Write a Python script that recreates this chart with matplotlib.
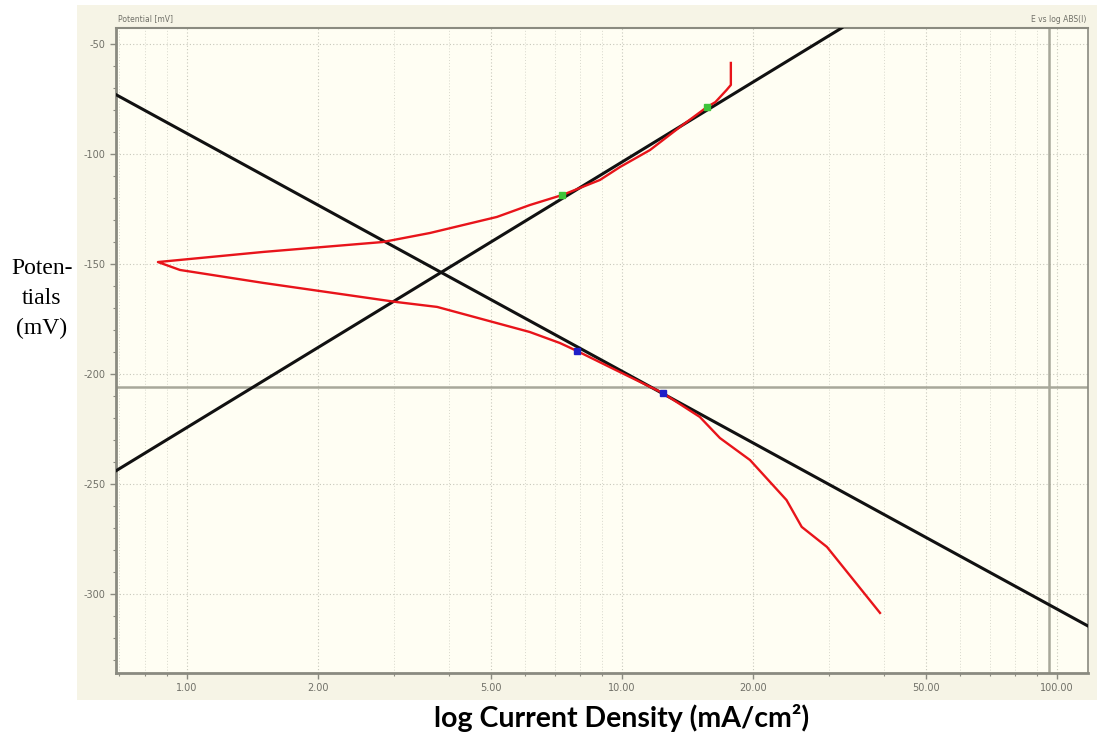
import numpy as np
import matplotlib.pyplot as plt
import matplotlib.ticker as ticker
from matplotlib.patches import Rectangle

plt.rcParams['axes.unicode_minus'] = False

# polarization curve (mA/cm2, mV)
curve_i = [17.8, 17.8, 17.4, 16.4, 15.7, 13.6, 11.6, 9.9, 8.9, 7.3, 6.14, 5.16, 3.62, 2.82,
           1.50, 0.858, 0.964, 1.50, 3.04, 3.76, 6.14, 7.20, 7.88, 9.89, 12.4, 15.1, 16.8,
           19.7, 23.9, 25.9, 29.6, 39.2]
curve_E = [-58.6, -68.6, -70.9, -76.4, -78.6, -87.7, -98.2, -105.9, -111.8, -118.6, -123.2,
           -128.6, -135.9, -140.0, -144.5, -149.1, -152.7, -158.6, -167.3, -169.5, -180.9,
           -185.9, -189.5, -199.1, -208.6, -219.5, -229.1, -239.1, -257.3, -269.5, -278.6,
           -308.6]

# Tafel fit lines (end points)
anodic_i = [0.687, 32.0]
anodic_E = [-244.0, -42.7]
cathodic_i = [0.687, 119.0]
cathodic_E = [-73.0, -315.0]

# fit range markers
green_i = [7.28, 15.7]
green_E = [-118.6, -78.6]
blue_i = [7.88, 12.4]
blue_E = [-189.5, -208.6]

E_corr = -205.9
i_ref = 96.0

x_ticks = [1, 2, 5, 10, 20, 50, 100]
y_ticks = [-50, -100, -150, -200, -250, -300]

fig = plt.figure(figsize=(10.97, 7.38), dpi=100)
fig.patch.set_facecolor('white')

# beige panel behind the plot
fig.patches.append(Rectangle((0.0702, 0.0515), 0.93, 0.942, transform=fig.transFigure,
                             facecolor='#f6f4e6', edgecolor='none', zorder=-5))

ax = fig.add_axes([0.1057, 0.0881, 0.886, 0.874])
ax.set_zorder(2)
ax.set_facecolor('#fffef3')

ax.set_xscale('log')
ax.set_xlim(0.687, 117.8)
ax.set_ylim(-335.9, -42.7)

ax.xaxis.set_major_locator(ticker.FixedLocator(x_ticks))
ax.xaxis.set_major_formatter(ticker.FixedFormatter(['%.2f' % v for v in x_ticks]))
ax.xaxis.set_minor_locator(ticker.LogLocator(base=10, subs=np.arange(2, 10)))
ax.xaxis.set_minor_formatter(ticker.NullFormatter())
ax.yaxis.set_major_locator(ticker.FixedLocator(y_ticks))
ax.yaxis.set_minor_locator(ticker.MultipleLocator(10))

ax.tick_params(which='both', labelsize=7, colors='#8a8a80', labelcolor='#707068', direction='out')
ax.tick_params(which='major', length=4, width=1)
ax.tick_params(which='minor', length=2, width=0.8)

ax.grid(which='major', axis='both', linestyle=(0, (1, 2)), color='#c8c8bc', linewidth=0.8)
ax.grid(which='minor', axis='x', linestyle=(0, (1, 2)), color='#d8d8cc', linewidth=0.7)

for side in ['left', 'bottom', 'top', 'right']:
    ax.spines[side].set_color('#8a8a80')
ax.spines['left'].set_linewidth(2)
ax.spines['bottom'].set_linewidth(2)
ax.spines['top'].set_linewidth(1.5)
ax.spines['right'].set_linewidth(1.2)

ax.axhline(E_corr, color='#a8a89a', linewidth=1.8, zorder=2)
ax.axvline(i_ref, color='#a8a89a', linewidth=1.8, zorder=2)

ax.plot(anodic_i, anodic_E, color='#111111', linewidth=2.2, zorder=3)
ax.plot(cathodic_i, cathodic_E, color='#111111', linewidth=2.2, zorder=3)
ax.plot(curve_i, curve_E, color='#e8141a', linewidth=1.7, zorder=4)
ax.plot(green_i, green_E, linestyle='none', marker='s', markersize=4.5, color='#3ec43a', zorder=5)
ax.plot(blue_i, blue_E, linestyle='none', marker='s', markersize=4.5, color='#2020c8', zorder=5)

fig.text(0.1075, 0.968, 'Potential [mV]', fontsize=5.5, color='#707068', ha='left', va='bottom')
fig.text(0.990, 0.968, 'E vs log ABS(I)', fontsize=5.5, color='#707068', ha='right', va='bottom')

fig.text(0.038, 0.596, 'Poten-\ntials\n(mV)', family='Liberation Serif', fontsize=17,
         ha='center', va='center', linespacing=1.55)
fig.text(0.567, 0.027, 'log Current Density (mA/cm²)', family='Lato', fontweight='bold',
         fontsize=20.5, ha='center', va='center')

plt.savefig('out.png', dpi=100)
